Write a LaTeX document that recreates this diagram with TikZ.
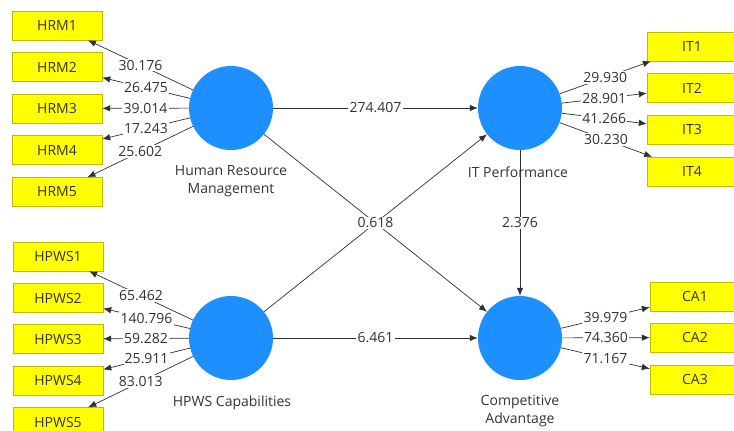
\documentclass[tikz,border=0pt]{standalone}
\usepackage{fontspec}
\setmainfont{Open Sans}
\usepackage{xcolor}
\definecolor{lvblue}{HTML}{1E8FFF}
\definecolor{indyellow}{HTML}{FFFF00}
\definecolor{indborder}{HTML}{BDBD00}
\definecolor{textdark}{HTML}{333333}
\definecolor{linedark}{HTML}{303030}
\usepackage{tikz}
\usetikzlibrary{arrows.meta,positioning}

\begin{document}
\begin{tikzpicture}[x=1pt, y=-1pt,
    latent/.style={circle, fill=lvblue, minimum size=84pt, inner sep=0pt},
    indicator/.style={rectangle, draw=indborder, fill=indyellow, text=textdark, minimum width=90pt, minimum height=29pt, inner sep=0pt, font=\fontsize{14}{16}\selectfont},
    path/.style={-{Latex[length=8pt,width=6.5pt]}, draw=linedark, line width=0.7pt},
    coef/.style={midway, fill=white, text=textdark, inner sep=1.2pt, font=\fontsize{14}{16}\selectfont},
    lvname/.style={text=textdark, align=center, font=\fontsize{14}{17.5}\selectfont}]
        \useasboundingbox (0,0) rectangle (734,431);
        \clip (0,0) rectangle (734,431);
        % latent variables
        \node[latent] (hrm) at (231,108) {};
        \node[latent] (hpws) at (231,338) {};
        \node[latent] (itp) at (520,108) {};
        \node[latent] (ca) at (520,338) {};
        \node[lvname] (hrmname) at (231,181) {Human Resource\\Management};
        \node[lvname] (hpwsname) at (232,403) {HPWS Capabilities};
        \node[lvname] (itpname) at (518,172) {IT Performance};
        \node[lvname] (caname) at (520,411) {Competitive\\Advantage};
        % indicators
        \node[indicator] (hrm1) at (57,25.5) {HRM1};
        \node[indicator] (hrm2) at (57,67) {HRM2};
        \node[indicator] (hrm3) at (57,108.5) {HRM3};
        \node[indicator] (hrm4) at (57,150) {HRM4};
        \node[indicator] (hrm5) at (57,192) {HRM5};
        \node[indicator] (hpws1) at (58,256.5) {HPWS1};
        \node[indicator] (hpws2) at (58,298) {HPWS2};
        \node[indicator] (hpws3) at (58,339) {HPWS3};
        \node[indicator] (hpws4) at (58,380.5) {HPWS4};
        \node[indicator] (hpws5) at (58,422) {HPWS5};
        \node[indicator] (it1) at (692,46.5) {IT1};
        \node[indicator] (it2) at (692,88) {IT2};
        \node[indicator] (it3) at (692,129.5) {IT3};
        \node[indicator] (it4) at (692,171.5) {IT4};
        \node[indicator] (ca1) at (695,296.5) {CA1};
        \node[indicator] (ca2) at (695,337.5) {CA2};
        \node[indicator] (ca3) at (695,379.5) {CA3};
        % outer loadings
        \draw[path] (hrm) -- node[coef] {30.176} (hrm1);
        \draw[path] (hrm) -- node[coef] {26.475} (hrm2);
        \draw[path] (hrm) -- node[coef] {39.014} (hrm3);
        \draw[path] (hrm) -- node[coef] {17.243} (hrm4);
        \draw[path] (hrm) -- node[coef] {25.602} (hrm5);
        \draw[path] (hpws) -- node[coef] {65.462} (hpws1);
        \draw[path] (hpws) -- node[coef] {140.796} (hpws2);
        \draw[path] (hpws) -- node[coef] {59.282} (hpws3);
        \draw[path] (hpws) -- node[coef] {25.911} (hpws4);
        \draw[path] (hpws) -- node[coef] {83.013} (hpws5);
        \draw[path] (itp) -- node[coef] {29.930} (it1);
        \draw[path] (itp) -- node[coef] {28.901} (it2);
        \draw[path] (itp) -- node[coef] {41.266} (it3);
        \draw[path] (itp) -- node[coef] {30.230} (it4);
        \draw[path] (ca) -- node[coef] {39.979} (ca1);
        \draw[path] (ca) -- node[coef] {74.360} (ca2);
        \draw[path] (ca) -- node[coef] {71.167} (ca3);
        % structural paths
        \draw[path] (hrm) -- (ca);
        \draw[path] (hrm) -- node[coef] {274.407} (itp);
        \draw[path] (hpws) -- node[coef] {0.618} (itp);
        \draw[path] (hpws) -- node[coef] {6.461} (ca);
        \draw[path] (itp) -- node[coef] {2.376} (ca);
\end{tikzpicture}
\end{document}
